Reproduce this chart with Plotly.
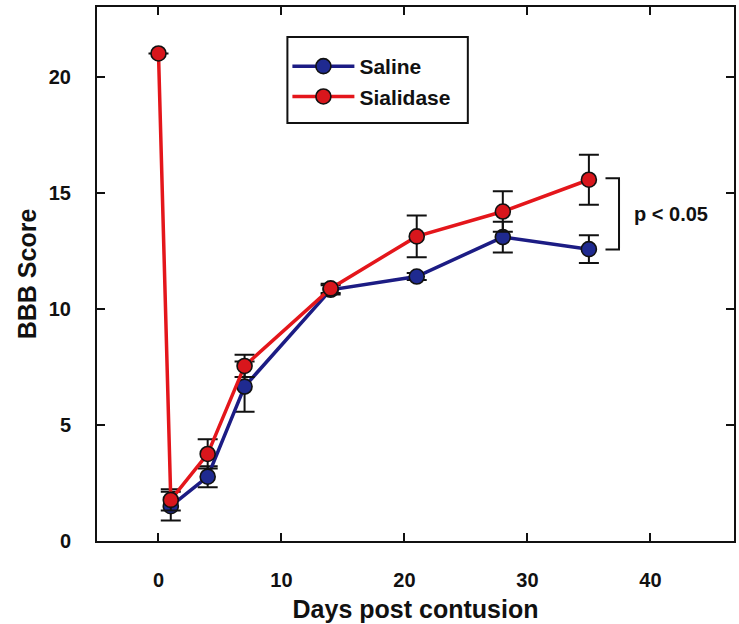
import plotly.graph_objects as go

# Data
days_saline = [1, 4, 7, 14, 21, 28, 35]
saline = [1.5, 2.77, 6.65, 10.82, 11.39, 13.09, 12.57]
saline_err = [0.62, 0.45, 1.08, 0.2, 0.15, 0.66, 0.6]

days_sialidase = [0, 1, 4, 7, 14, 21, 28, 35]
sialidase = [21.0, 1.77, 3.75, 7.54, 10.88, 13.12, 14.19, 15.56]
sialidase_err = [0.0, 0.46, 0.63, 0.48, 0.2, 0.9, 0.87, 1.08]

x_ticks = [0, 10, 20, 30, 40]
y_ticks = [0, 5, 10, 15, 20]

FONT = "Arial, Liberation Sans, sans-serif"

fig = go.Figure()

fig.add_trace(go.Scatter(
    x=days_saline, y=saline, name="Saline", mode="lines+markers",
    line=dict(color="#1c1c84", width=3.5),
    marker=dict(size=15, color="#1f2a90", line=dict(color="#111111", width=1.6)),
    error_y=dict(type="data", array=saline_err, visible=True,
                 color="#111111", thickness=2, width=10),
))
fig.add_trace(go.Scatter(
    x=days_sialidase, y=sialidase, name="Sialidase", mode="lines+markers",
    line=dict(color="#e4161b", width=3.5),
    marker=dict(size=15, color="#d8161c", line=dict(color="#111111", width=1.6)),
    error_y=dict(type="data", array=sialidase_err, visible=True,
                 color="#111111", thickness=2, width=10),
))

# significance bracket at day 35
top = sialidase[-1] + 0.06
bot = saline[-1] - 0.02
fig.add_shape(type="path", xref="x", yref="y",
              path=f"M 36.35 {top} L 37.45 {top} L 37.45 {bot} L 36.35 {bot}",
              line=dict(color="#111111", width=2))
fig.add_annotation(x=38.5, y=(top + bot) / 2, xref="x", yref="y",
                   text="<b>p < 0.05</b>", showarrow=False, xanchor="left",
                   font=dict(family=FONT, size=20, color="#111111"))

# legend frame
PL, PR, PT, PB = 97, 736, 7, 541
def px_x(v):
    return (v - PL) / (PR - PL)
def px_y(v):
    return (PB - v) / (PB - PT)
fig.add_shape(type="rect", xref="paper", yref="paper",
              x0=px_x(288), x1=px_x(469), y0=px_y(123), y1=px_y(37),
              line=dict(color="#111111", width=2), fillcolor="white", layer="below")

axis_common = dict(
    showline=True, linecolor="#111111", linewidth=2, mirror="ticks",
    ticks="inside", ticklen=8, tickwidth=2, tickcolor="#111111",
    showgrid=False, zeroline=False,
    tickfont=dict(family=FONT, size=20, color="#111111", weight="bold"),
)

fig.update_xaxes(range=[-5, 46.8], tickvals=x_ticks, ticklabelstandoff=20,
                 title=dict(text="<b>Days post contusion</b>", standoff=10,
                            font=dict(family=FONT, size=25, color="#111111")),
                 **axis_common)
fig.update_yaxes(range=[0, 23], tickvals=y_ticks, ticklabelstandoff=20,
                 title=dict(text="<b>BBB Score</b>", standoff=5,
                            font=dict(family=FONT, size=25, color="#111111")),
                 **axis_common)

fig.update_layout(
    width=739, height=624,
    margin=dict(l=PL, r=739 - PR, t=PT, b=624 - PB),
    paper_bgcolor="white", plot_bgcolor="white",
    showlegend=True,
    legend=dict(x=px_x(288), y=px_y(46), xanchor="left", yanchor="top",
                borderwidth=0, bgcolor="rgba(0,0,0,0)",
                itemwidth=62, traceorder="normal",
                font=dict(family=FONT, size=21, color="#111111", weight="bold")),
)

fig.write_html("out.html")
